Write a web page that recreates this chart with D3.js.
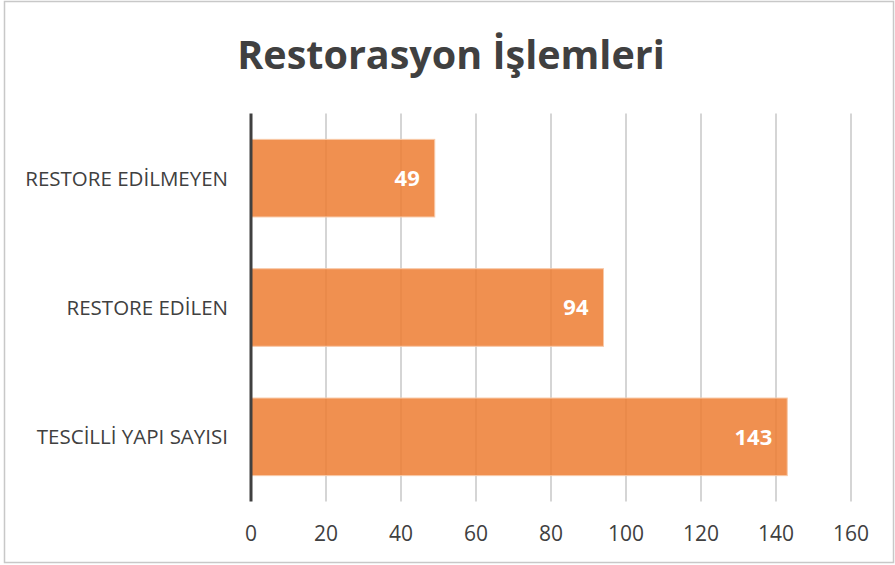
<!DOCTYPE html>
<html>
<head>
<meta charset="utf-8">
<script src="https://cdn.jsdelivr.net/npm/d3@7"></script>
<style>
  body { margin: 0; background: #fff; }
  text { font-family: "Open Sans", "Noto Sans", sans-serif; }
</style>
</head>
<body>
<svg width="895" height="565"></svg>
<script>
// Data
var categories = ["RESTORE EDİLMEYEN", "RESTORE EDİLEN", "TESCİLLİ YAPI SAYISI"];
var values = [49, 94, 143];
var xTicks = [0, 20, 40, 60, 80, 100, 120, 140, 160];
var title = "Restorasyon İşlemleri";

var svg = d3.select("svg");

// chart border
svg.append("rect")
  .attr("x", 4.5).attr("y", 1.5)
  .attr("width", 889).attr("height", 561)
  .attr("fill", "#fff")
  .attr("stroke", "#c8c8c8")
  .attr("stroke-width", 1.5);

var x = d3.scaleLinear()
  .domain([0, 160])
  .range([251, 851]);

var y = d3.scaleBand()
  .domain(categories)
  .range([113.5, 501.5])
  .paddingInner(0.4)
  .paddingOuter(0.2);

// title
svg.append("text")
  .attr("x", 451)
  .attr("y", 69)
  .attr("text-anchor", "middle")
  .attr("font-size", 39.5)
  .attr("font-weight", "bold")
  .attr("fill", "#404040")
  .text(title);

// vertical gridlines
svg.append("g")
  .selectAll("line")
  .data(xTicks.slice(1))
  .enter()
  .append("line")
    .attr("x1", function(d) { return x(d); })
    .attr("x2", function(d) { return x(d); })
    .attr("y1", 113.5)
    .attr("y2", 501.5)
    .attr("stroke", "#bfbfbf")
    .attr("stroke-width", 1.3);

// bars
svg.append("g")
  .selectAll("rect")
  .data(values)
  .enter()
  .append("rect")
    .attr("x", x(0))
    .attr("y", function(d, i) { return y(categories[i]); })
    .attr("width", function(d) { return x(d) - x(0); })
    .attr("height", y.bandwidth())
    .attr("fill", "#ed7d31")
    .attr("fill-opacity", 0.85)
    .attr("stroke", "#f8c9a8")
    .attr("stroke-width", 1);

// value labels
svg.append("g")
  .selectAll("text")
  .data(values)
  .enter()
  .append("text")
    .attr("x", function(d) { return x(d) - 15; })
    .attr("y", function(d, i) { return y(categories[i]) + y.bandwidth() / 2; })
    .attr("dy", "0.36em")
    .attr("text-anchor", "end")
    .attr("font-size", 22)
    .attr("font-weight", "bold")
    .attr("fill", "#fff")
    .text(function(d) { return d; });

// y axis line
svg.append("line")
  .attr("x1", x(0)).attr("x2", x(0))
  .attr("y1", 113.5).attr("y2", 501.5)
  .attr("stroke", "#404040")
  .attr("stroke-width", 3);

// category labels
svg.append("g")
  .selectAll("text")
  .data(categories)
  .enter()
  .append("text")
    .attr("x", 228)
    .attr("y", function(d) { return y(d) + y.bandwidth() / 2; })
    .attr("dy", "0.36em")
    .attr("text-anchor", "end")
    .attr("font-size", 20.5)
    .attr("fill", "#404040")
    .text(function(d) { return d; });

// x tick labels
svg.append("g")
  .selectAll("text")
  .data(xTicks)
  .enter()
  .append("text")
    .attr("x", function(d) { return x(d); })
    .attr("y", 533)
    .attr("dy", "0.36em")
    .attr("text-anchor", "middle")
    .attr("font-size", 21)
    .attr("fill", "#404040")
    .text(function(d) { return d; });
</script>
</body>
</html>
